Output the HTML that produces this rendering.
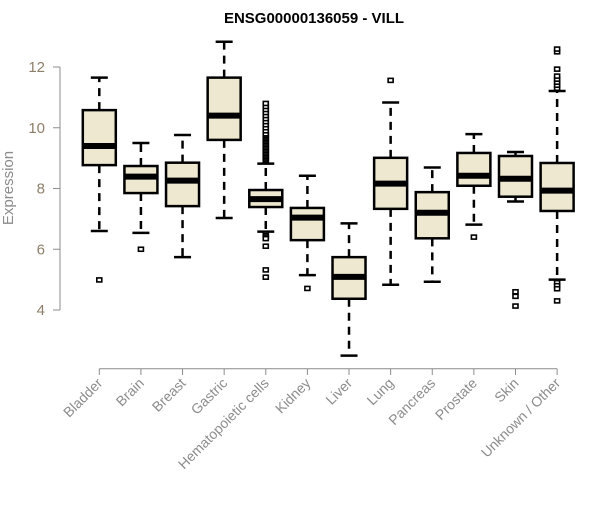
<!DOCTYPE html>
<html><head><meta charset="utf-8"><style>
body{margin:0;background:#fff}
svg text{font-family:"Liberation Sans",Arial,sans-serif}
</style></head><body>
<svg id="chart" width="600" height="500" xmlns="http://www.w3.org/2000/svg">
<text x="314" y="23" text-anchor="middle" font-weight="bold" font-size="15" fill="#000">ENSG00000136059 - VILL</text>
<text transform="translate(13,188) rotate(-90)" text-anchor="middle" font-size="15" fill="#8c8c8c">Expression</text>
<g id="axes"></g><g id="boxes"></g>
</svg>
<script>
const categories=["Bladder","Brain","Breast","Gastric","Hematopoietic cells","Kidney","Liver","Lung","Pancreas","Prostate","Skin","Unknown / Other"];
const whiskerLow=[6.60,6.54,5.74,7.03,6.58,5.15,2.50,4.83,4.93,6.81,7.57,5.00];
const q1=[8.77,7.85,7.42,9.60,7.39,6.30,4.37,7.33,6.36,8.09,7.73,7.26];
const medians=[9.40,8.39,8.26,10.40,7.65,7.04,5.09,8.16,7.20,8.42,8.32,7.93];
const q3=[10.58,8.74,8.85,11.65,7.95,7.36,5.74,9.01,7.88,9.17,9.07,8.84];
const whiskerHigh=[11.65,9.50,9.76,12.83,8.82,8.42,6.85,10.83,8.69,9.79,9.20,11.21];
const outliers=[[4.99],[6.00],[],[],
[8.9,8.95,9.0,9.05,9.1,9.15,9.2,9.25,9.3,9.35,9.4,9.45,9.5,9.55,9.6,9.65,9.7,9.75,9.8,9.9,10.0,10.1,10.2,10.3,10.4,10.5,10.6,10.7,10.8,6.5,6.45,6.4,6.35,6.10,5.32,5.08],
[4.71],[],[11.56],[],[6.40],[4.60,4.45,4.13],
[11.3,11.4,11.5,11.6,11.7,11.93,12.5,12.59,4.9,4.8,4.7,4.30]];
const yTicks=[4,6,8,10,12];
const NS="http://www.w3.org/2000/svg";
function y(v){return 310-(v-4)*30.375;}
function x(i){return 99.3+i*41.62;}
function mk(tag,attrs,parent){const e=document.createElementNS(NS,tag);for(const k in attrs)e.setAttribute(k,attrs[k]);parent.appendChild(e);return e;}
const ax=document.getElementById('axes'),bx=document.getElementById('boxes');
const yl=mk('line',{x1:60,x2:60,y1:y(4),y2:y(12),stroke:'#8c8c8c'},ax);


yTicks.forEach(t=>{
 const tk=mk('line',{x1:53,x2:60,y1:y(t),y2:y(t),stroke:'#8c8c8c'},ax);
 
 
 const lb=mk('text',{x:45,y:y(t)+5,'text-anchor':'end','font-size':15,fill:'#8c7f6a'},ax);
 lb.textContent=t;
 
 
});
const xl=mk('line',{x1:x(0),x2:x(11),y1:368.7,y2:368.7,stroke:'#8c8c8c'},ax);


categories.forEach((c,i)=>{
 const cx=x(i);
 const tk=mk('line',{x1:cx,x2:cx,y1:368.7,y2:375,stroke:'#8c8c8c'},ax);
 
 
 const lb=mk('text',{transform:`translate(${cx+4},${384}) rotate(-45)`,'text-anchor':'end','font-size':14,fill:'#8c8c8c'},ax);
 lb.textContent=c;
 
 
 const g=mk('g',{},bx);
 
 
 mk('line',{x1:cx,x2:cx,y1:y(q3[i]),y2:y(whiskerHigh[i]),stroke:'#000','stroke-width':2.5,'stroke-dasharray':'8,6'},g);
 mk('line',{x1:cx,x2:cx,y1:y(q1[i]),y2:y(whiskerLow[i]),stroke:'#000','stroke-width':2.5,'stroke-dasharray':'8,6'},g);
 mk('line',{x1:cx-8.5,x2:cx+8.5,y1:y(whiskerHigh[i]),y2:y(whiskerHigh[i]),stroke:'#000','stroke-width':2.5},g);
 mk('line',{x1:cx-8.5,x2:cx+8.5,y1:y(whiskerLow[i]),y2:y(whiskerLow[i]),stroke:'#000','stroke-width':2.5},g);
 mk('rect',{x:cx-16.5,y:y(q3[i]),width:33,height:y(q1[i])-y(q3[i]),fill:'#ede8cf',stroke:'#000','stroke-width':2.5},g);
 mk('line',{x1:cx-16.5,x2:cx+16.5,y1:y(medians[i]),y2:y(medians[i]),stroke:'#000','stroke-width':6},g);
 outliers[i].forEach(v=>{
  const o=mk('rect',{x:cx-2.5,y:y(v)-2,width:5,height:4,fill:'#fff',stroke:'#000','stroke-width':1.6},g);
  
  
 });
});
</script>
</body></html>
